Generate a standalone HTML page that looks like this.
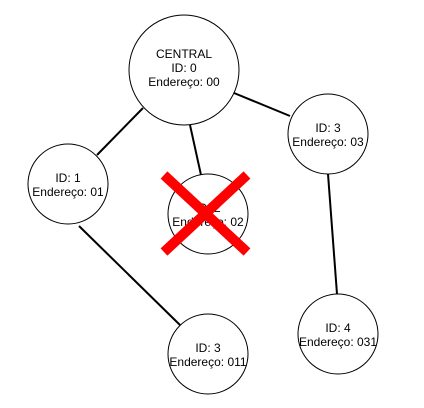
<!DOCTYPE html>
<html><head><style>body{margin:0;background:#fff}svg{display:block}</style></head><body>
<svg width="424" height="408" viewBox="0 0 424 408" xmlns="http://www.w3.org/2000/svg" font-family="Liberation Sans, Arial, sans-serif" font-size="12" text-anchor="middle">
<g stroke="#000" stroke-width="2">
<line x1="143" y1="108" x2="97" y2="155"/>
<line x1="190" y1="125" x2="201" y2="175"/>
<line x1="234" y1="93" x2="290" y2="116"/>
<line x1="328" y1="174" x2="337" y2="294"/>
<line x1="79" y1="226" x2="180" y2="325"/>
</g>
<g fill="#fff" stroke="#000" stroke-width="1">
<circle cx="184" cy="70" r="55"/>
<circle cx="68" cy="184" r="40"/>
<circle cx="328" cy="134" r="40"/>
<circle cx="208" cy="214" r="40"/>
<circle cx="208" cy="354" r="40"/>
<circle cx="338" cy="334" r="40"/>
</g>
<g fill="#000">
<text x="184" y="58">CENTRAL</text><text x="184" y="72">ID: 0</text><text x="184" y="86">Endereço: 00</text>
<text x="68" y="182">ID: 1</text><text x="68" y="196">Endereço: 01</text>
<text x="328" y="132">ID: 3</text><text x="328" y="146">Endereço: 03</text>
<text x="208" y="212">ID: 2</text><text x="208" y="226">Endereço: 02</text>
<text x="208" y="352">ID: 3</text><text x="208" y="366">Endereço: 011</text>
<text x="338" y="332">ID: 4</text><text x="338" y="346">Endereço: 031</text>
</g>
<g stroke="#f00" stroke-width="10">
<line x1="164" y1="175" x2="247" y2="252"/>
<line x1="247" y1="175" x2="164" y2="252"/>
</g>
</svg>
</body></html>
